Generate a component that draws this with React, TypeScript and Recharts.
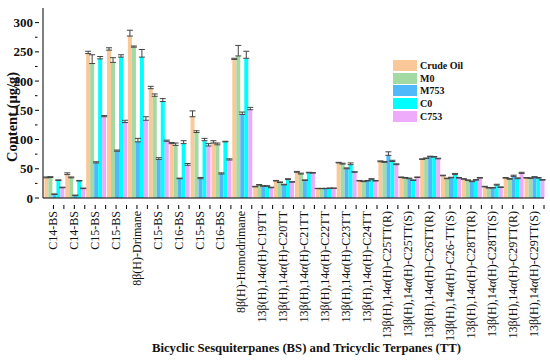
import { BarChart, Bar, XAxis, YAxis, ErrorBar, Label } from 'recharts';

const categories = [
    'C14-BS', 'C14-BS', 'C15-BS', 'C15-BS', '8β(H)-Drimane', 'C15-BS', 'C16-BS', 'C15-BS', 'C16-BS', '8β(H)-Homodrimane',
    '13β(H),14α(H)-C19TT', '13β(H),14α(H)-C20TT', '13β(H),14α(H)-C21TT', '13β(H),14α(H)-C22TT', '13β(H),14α(H)-C23TT',
    '13β(H),14α(H)-C24TT', '13β(H),14α(H)-C25TT(R)', '13β(H),14α(H)-C25TT(S)', '13β(H),14α(H)-C26TT(R)', '13β(H),14α(H)-C26-TT(S)',
    '13β(H),14α(H)-C28TT(R)', '13β(H),14α(H)-C28TT(S)', '13β(H),14α(H)-C29TT(R)', '13β(H),14α(H)-C29TT(S)',
];

const crudeOil = [34.5, 40, 247, 253, 277, 187, 93, 139, 94, 237, 19, 29, 44, 16, 60, 29, 62, 35, 66, 38, 32, 19, 34, 34];
const m0 = [35, 34.5, 230, 232, 258, 174, 90, 112, 91, 243, 22, 26.5, 41, 16, 58, 28, 61, 34, 67.5, 33, 30, 17, 32, 33.5];
const m753 = [6, 4, 60, 80, 96, 66, 33, 33, 41, 143, 20, 22.5, 30, 16, 50, 29, 73, 33, 70.5, 34.5, 28, 17, 37, 35.5];
const c0 = [30, 29, 238, 241, 241, 165, 93, 98, 96, 239, 20, 31.5, 43, 16.5, 57, 32, 62.5, 30, 70, 40, 30.5, 22, 33, 34];
const c753 = [17.5, 16, 139, 129, 133, 97, 56, 89, 65, 151, 17.5, 27, 42.5, 16.5, 44, 29, 57, 35, 67, 34, 34, 18, 42, 30.5];

// upper error only (bars show caps above the top)
const crudeOilErr = [1.5, 3, 4, 4, 10, 4, 2, 10, 4, 2, 1, 1, 1.5, 0.5, 1, 1, 1.5, 1, 1, 1, 1, 1, 1, 1];
const m0Err = [1.5, 1.5, 15, 8, 2, 4, 4, 3, 3, 18, 1, 1, 1.5, 0.5, 1.5, 1, 1.5, 1, 1, 1, 1, 1, 1.5, 1];
const m753Err = [1, 1, 2, 2, 6, 3, 1, 2, 2, 4, 1, 1, 1, 0.5, 1.5, 1, 6, 1, 1, 1, 1, 1, 2, 1];
const c0Err = [1, 1, 4, 4, 13, 5, 5, 4, 1, 12, 1, 1.5, 1, 0.5, 3, 1, 2, 1, 1, 2, 1, 1.5, 1.5, 1];
const c753Err = [1, 1, 2, 4, 6, 2, 3, 4, 2, 4, 1, 1, 1, 0.5, 1, 1, 1.5, 1, 1, 1, 1, 1, 2, 1];

const yTicks = [0, 25, 50, 75, 100, 125, 150, 175, 200, 225, 250, 275, 300];

const series = [
    { key: 'crude', name: 'Crude Oil', color: '#FBC999' },
    { key: 'm0', name: 'M0', color: '#A3D9A3' },
    { key: 'm753', name: 'M753', color: '#4FB9FA' },
    { key: 'c0', name: 'C0', color: '#00FFFF' },
    { key: 'c753', name: 'C753', color: '#EEAAFB' },
];

const data = categories.map((name, i) => ({
    name,
    crude: crudeOil[i], crudeErr: [0, crudeOilErr[i]],
    m0: m0[i], m0Err: [0, m0Err[i]],
    m753: m753[i], m753Err: [0, m753Err[i]],
    c0: c0[i], c0Err: [0, c0Err[i]],
    c753: c753[i], c753Err: [0, c753Err[i]],
}));

const PLOT_LEFT = 43;
const PLOT_RIGHT = 544;
const BAND = (PLOT_RIGHT - PLOT_LEFT) / categories.length;

const YTick = (props: any) => {
    const { x, y, payload } = props;
    const major = payload.value % 50 === 0;
    return (
        <g>
            <line x1={x} x2={x + (major ? 4 : 2.5)} y1={y} y2={y} stroke="#000" strokeWidth={1} />
            {major && (
                <text x={x - 2} y={y} dy={4.5} textAnchor="end" fontSize={13} fontWeight="bold" fill="#111">
                    {payload.value}
                </text>
            )}
        </g>
    );
};

const XTick = (props: any) => {
    const { x, y, payload } = props;
    const parts = String(payload.value).split('α');
    return (
        <g>
            <line x1={x} x2={x} y1={y - 1} y2={y + 3} stroke="#000" strokeWidth={1} />
            <line x1={x + BAND / 2} x2={x + BAND / 2} y1={y - 1} y2={y + 3} stroke="#000" strokeWidth={1} />
            <text transform={`translate(${x + 4},${y + 5}) rotate(-90)`} textAnchor="end" fontSize={12} fill="#111">
                {parts.map((p, i) => (
                    <tspan key={i}>
                        {i > 0 && <tspan fontStyle="italic">α</tspan>}
                        {p}
                    </tspan>
                ))}
            </text>
        </g>
    );
};

const App = () => {
    return (
        <div style={{ position: 'absolute', left: 0, top: 0, fontFamily: "'Liberation Serif', serif", background: '#fff' }}>
            <BarChart
                width={550}
                height={363}
                data={data}
                margin={{ top: 8, right: 550 - PLOT_RIGHT, left: 0, bottom: 0 }}
                barCategoryGap={1.4}
                barGap={0}
            >
                <XAxis
                    dataKey="name"
                    interval={0}
                    height={165}
                    tickLine={false}
                    axisLine={{ stroke: '#000' }}
                    tick={<XTick />}
                >
                    <Label
                        value="Bicyclic Sesquiterpanes (BS) and Tricyclic Terpanes (TT)"
                        position="insideBottom"
                        offset={11}
                        dx={13}
                        style={{ fontSize: 12.7, fontWeight: 'bold', fill: '#111' }}
                    />
                </XAxis>
                <YAxis
                    type="number"
                    domain={[0, 325]}
                    ticks={yTicks}
                    width={PLOT_LEFT}
                    tickLine={false}
                    axisLine={{ stroke: '#000' }}
                    tick={<YTick />}
                    interval={0}
                >
                    <Label
                        content={() => (
                            <text transform="translate(13,117) rotate(-90)" textAnchor="middle" dy={4} fontSize={14.5} fontWeight="bold" fill="#111">
                                Content (μg/g)
                            </text>
                        )}
                    />
                </YAxis>
                {series.map(s => (
                    <Bar key={s.key} dataKey={s.key} name={s.name} fill={s.color} isAnimationActive={false}>
                        <ErrorBar dataKey={`${s.key}Err`} width={3} stroke="#444" strokeWidth={1} direction="y" />
                    </Bar>
                ))}
            </BarChart>
            {/* legend drawn outside the chart so it does not shrink the plot */}
            <div style={{ position: 'absolute', left: 393, top: 59 }}>
                {series.map(s => (
                    <div key={s.key} style={{ display: 'flex', alignItems: 'center', height: 12.7 }}>
                        <div style={{ width: 24, height: 11, background: s.color, marginRight: 3 }} />
                        <span style={{ fontSize: 10, fontWeight: 'bold', color: '#111' }}>{s.name}</span>
                    </div>
                ))}
            </div>
        </div>
    );
};

export default App;
